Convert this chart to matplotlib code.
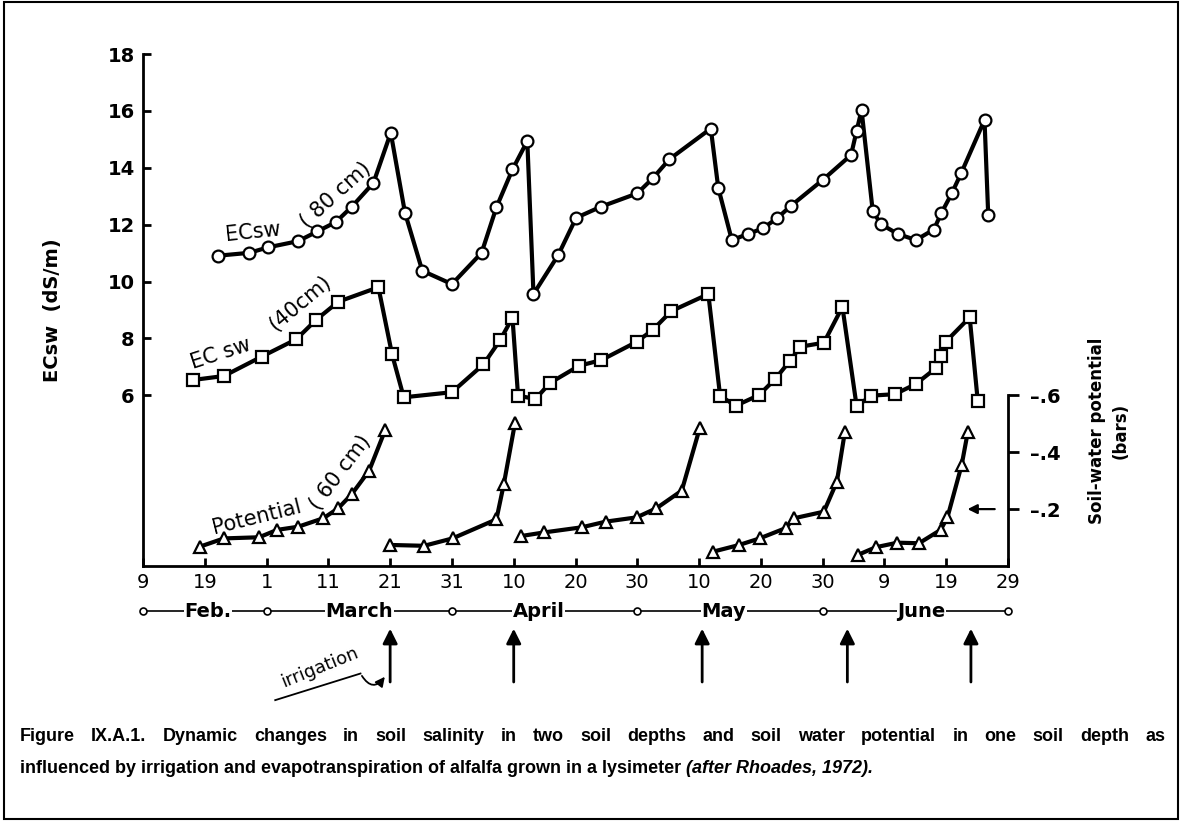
import matplotlib
matplotlib.use('Agg')
import matplotlib.pyplot as plt
from matplotlib.patches import Rectangle
from matplotlib.transforms import blended_transform_factory

# ---------------------------------------------------------------- data
# x values are days counted from 9 Feb (1972)
ec80_day = [12.2, 17.2, 20.2, 25.1, 28.2, 31.2, 33.8, 37.3, 40.1, 42.4,
            45.2, 50.0, 54.8, 57.2, 59.8, 62.2, 63.2, 67.2, 70.1, 74.1,
            80.0, 82.5, 85.2, 91.9, 93.1, 95.3, 97.9, 100.3, 102.6, 104.8,
            110.0, 114.6, 115.5, 116.3, 118.1, 119.4, 122.2, 125.1, 128.0,
            129.2, 130.9, 132.4, 136.2, 136.8]
ec80 = [10.91, 11.01, 11.20, 11.42, 11.76, 12.09, 12.63, 13.47, 15.23, 12.42,
        10.38, 9.91, 11.01, 12.61, 13.94, 14.94, 9.56, 10.93, 12.24, 12.63,
        13.10, 13.63, 14.30, 15.38, 13.30, 11.46, 11.67, 11.87, 12.22, 12.65,
        13.57, 14.45, 15.30, 16.03, 12.49, 12.02, 11.67, 11.46, 11.83,
        12.40, 13.10, 13.80, 15.68, 12.33]

ec40_day = [8.1, 13.1, 19.2, 24.8, 28.0, 31.6, 38.1, 40.3, 42.2, 50.0,
            55.1, 57.8, 59.8, 60.7, 63.5, 65.9, 70.6, 74.2, 79.9, 82.5,
            85.5, 91.5, 93.4, 95.9, 99.7, 102.3, 104.7, 106.4, 110.2, 113.2,
            115.5, 117.9, 121.7, 125.1, 128.3, 129.2, 129.9, 133.8, 135.1]
ec40 = [6.54, 6.68, 7.36, 7.97, 8.65, 9.29, 9.80, 7.45, 5.93, 6.11,
        7.09, 7.94, 8.73, 5.99, 5.87, 6.44, 7.04, 7.24, 7.88, 8.30,
        8.96, 9.56, 5.99, 5.63, 6.01, 6.57, 7.21, 7.71, 7.85, 9.11,
        5.62, 5.99, 6.04, 6.40, 6.95, 7.39, 7.88, 8.74, 5.81]

# soil-water potential (60 cm), one list per irrigation cycle, bars (negative)
pot_days = [[9.2, 13.1, 18.8, 21.7, 25.1, 29.2, 31.6, 33.8, 36.6, 39.2],
            [40.0, 45.5, 50.1, 57.2, 58.4, 60.2],
            [61.1, 64.9, 71.0, 74.9, 79.9, 83.1, 87.2, 90.1],
            [92.2, 96.5, 99.8, 104.0, 105.4, 110.2, 112.3, 113.6],
            [115.7, 118.6, 122.1, 125.6, 129.1, 130.2, 132.5, 133.5]]
pot_vals = [[0.068, 0.097, 0.101, 0.127, 0.138, 0.168, 0.203, 0.253, 0.335, 0.478],
            [0.074, 0.071, 0.097, 0.164, 0.288, 0.502],
            [0.105, 0.118, 0.136, 0.156, 0.171, 0.203, 0.265, 0.484],
            [0.050, 0.074, 0.097, 0.133, 0.168, 0.191, 0.296, 0.472],
            [0.039, 0.066, 0.082, 0.080, 0.127, 0.171, 0.355, 0.472]]

x_ticks = list(range(0, 141, 10))
x_tick_labels = ['9', '19', '1', '11', '21', '31', '10', '20', '30',
                 '10', '20', '30', '9', '19', '29']
ec_ticks = [6, 8, 10, 12, 14, 16, 18]
pot_ticks = [0.2, 0.4, 0.6]
pot_tick_labels = ['\u2013.2', '\u2013.4', '\u2013.6']

month_names = ['Feb.', 'March', 'April', 'May', 'June']
month_label_day = [10.5, 35, 64, 94, 126]
month_break_day = [0, 20, 50, 80, 110, 140]
irrigation_day = [40, 60, 90.5, 114, 134]

caption1 = ('Figure IX.A.1. Dynamic changes in soil salinity in two soil depths '
            'and soil water potential in one soil depth as')
caption2 = ('influenced by irrigation and evapotranspiration of alfalfa grown '
            'in a lysimeter ')
caption3 = '(after Rhoades, 1972).'

# ---------------------------------------------------------------- figure
W, H = 1182, 821
fig = plt.figure(figsize=(W / 100, H / 100), dpi=100)
fig.patches.append(Rectangle((0.003, 0.003), 0.994, 0.994, transform=fig.transFigure,
                             fill=False, lw=1.5, ec='black'))

ax = fig.add_axes([143 / W, 1 - 566 / H, 865 / W, 512 / H])
ax2 = ax.twinx()

line_kw = dict(color='black', lw=3.0, mfc='white', mec='black', mew=1.6, clip_on=False)
ax.plot(ec80_day, ec80, marker='o', ms=8.5, **line_kw)
ax.plot(ec40_day, ec40, marker='s', ms=8.5, **line_kw)
for d, v in zip(pot_days, pot_vals):
    ax2.plot(d, v, marker='^', ms=9, **line_kw)

ax.set_xlim(0, 140)
ax.set_ylim(0, 18)
ax2.set_ylim(0, 1.8)

for s in ['top', 'right']:
    ax.spines[s].set_visible(False)
for s in ['top', 'left', 'bottom']:
    ax2.spines[s].set_visible(False)
ax.spines['left'].set_linewidth(2)
ax.spines['bottom'].set_linewidth(2)
ax2.spines['right'].set_linewidth(2)
ax2.spines['right'].set_bounds(0, 0.6)

ax.set_yticks(ec_ticks)
ax.set_yticklabels([str(t) for t in ec_ticks], fontsize=14, fontweight='bold')
ax.tick_params(axis='y', direction='in', length=6, width=2, pad=6)
ax.set_xticks(x_ticks)
ax.set_xticklabels(x_tick_labels, fontsize=14)
ax.tick_params(axis='x', direction='in', length=6, width=2, pad=5)

ax2.set_yticks(pot_ticks)
ax2.set_yticklabels(pot_tick_labels, fontsize=14, fontweight='bold')
ax2.tick_params(axis='y', direction='out', length=8, width=2, pad=8)

ax.set_ylabel('ECsw  (dS/m)', fontsize=14, fontweight='bold')
ax.yaxis.set_label_coords(-0.094, 0.5)
ax.text(1.103, 0.264, 'Soil-water potential', transform=ax.transAxes, rotation=90,
        ha='center', va='center', fontsize=12, fontweight='bold')
ax.text(1.130, 0.264, '(bars)', transform=ax.transAxes, rotation=90,
        ha='center', va='center', fontsize=12, fontweight='bold')

# arrow at -.2 bar
ax2.annotate('', xy=(133.0, 0.2), xytext=(138.3, 0.2), annotation_clip=False,
             arrowprops=dict(arrowstyle='-|>', color='black', lw=1.6, mutation_scale=14))

# curve labels
ax.text(17.8, 11.74, 'ECsw', rotation=6, fontsize=15, ha='center', va='center')
ax.text(31.1, 13.04, '( 80 cm)', rotation=42, fontsize=15, ha='center', va='center')
ax.text(12.6, 7.45, 'EC sw', rotation=18, fontsize=15, ha='center', va='center')
ax.text(25.4, 9.24, '(40cm)', rotation=40, fontsize=15, ha='center', va='center')
ax.text(18.4, 1.72, 'Potential', rotation=14, fontsize=15, ha='center', va='center')
ax.text(32.0, 3.30, '( 60 cm)', rotation=53, fontsize=15, ha='center', va='center')

# month row below the axis
trans = blended_transform_factory(ax.transData, ax.transAxes)
row_y = -0.088
ax.plot([0, 140], [row_y, row_y], color='black', lw=1.2, transform=trans, clip_on=False)
ax.plot(month_break_day, [row_y] * len(month_break_day), 'o', ms=5, mfc='white',
        mec='black', mew=1.2, transform=trans, clip_on=False)
for name, d in zip(month_names, month_label_day):
    ax.text(d, row_y, name, transform=trans, ha='center', va='center', fontsize=14,
            fontweight='bold', bbox=dict(fc='white', ec='none', pad=0.5))

# irrigation arrows
for d in irrigation_day:
    ax.annotate('', xy=(d, -0.117), xytext=(d, -0.232), xycoords=trans, textcoords=trans,
                annotation_clip=False,
                arrowprops=dict(arrowstyle='-|>', color='black', lw=2, mutation_scale=22))
ax.text(28.6, -0.197, 'irrigation', transform=trans, rotation=22, fontsize=13,
        ha='center', va='center')
ax.plot([21.4, 35.2], [-0.262, -0.210], color='black', lw=1.3, transform=trans,
        clip_on=False)
ax.annotate('', xy=(39.4, -0.212), xytext=(35.2, -0.210), xycoords=trans, textcoords=trans,
            annotation_clip=False,
            arrowprops=dict(arrowstyle='-|>', color='black', lw=1.3, mutation_scale=14,
                            connectionstyle='arc3,rad=0.8'))

# caption: first line justified across the frame, last line left as is
cap_kw = dict(fontsize=13, fontweight='bold', family='Liberation Sans', va='center')
y1, y2 = 1 - 736 / H, 1 - 768 / H
t2 = fig.text(20 / W, y2, caption2, **cap_kw)
t3 = fig.text(0, y2, caption3, style='italic', **cap_kw)
words = [fig.text(0, y1, w, **cap_kw) for w in caption1.split(' ')]
fig.canvas.draw()
t3.set_x(t2.get_window_extent().x1 / W)
widths = [t.get_window_extent().width for t in words]
gap = (1145 - sum(widths)) / (len(words) - 1)
xpos = 20
for t, w in zip(words, widths):
    t.set_x(xpos / W)
    xpos += w + gap

fig.savefig('out.png', dpi=100)
